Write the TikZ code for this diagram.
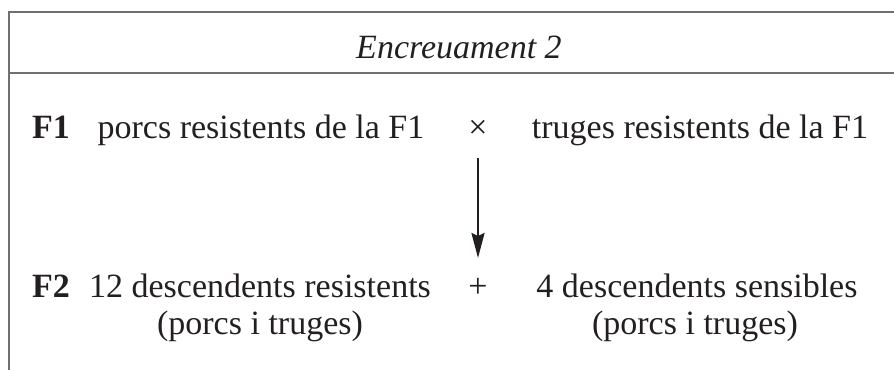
\documentclass[tikz,border=0pt]{standalone}
\usepackage{fontspec}
\setmainfont{Liberation Serif}
\usetikzlibrary{arrows.meta}
\definecolor{rule}{HTML}{707070}
\definecolor{ink}{HTML}{231F20}
\tikzset{
  txt/.style={inner sep=0pt, outer sep=0pt, text=ink, font=\fontsize{34}{40}\selectfont, anchor=base},
  frame/.style={draw=rule, line width=1.5pt},
  arr/.style={draw=ink, line width=2.4pt, -{Stealth[length=25pt,width=13pt,inset=3pt]}}
}
\begin{document}
\begin{tikzpicture}[x=1pt,y=-1pt]
\useasboundingbox (0,0) rectangle (894,370);
% frame
\coordinate (tl) at (9,12);
\coordinate (tr) at (894,12);
\coordinate (ml) at (9,73);
\coordinate (mr) at (894,73);
\coordinate (bl) at (9,370);
\draw[frame] (tr) -- (tl) -- (bl);
\draw[frame] (ml) -- (mr);
% title
\node[txt, font=\fontsize{34}{40}\selectfont\itshape] (title) at (459,58) {Encreuament 2};
% F1 row
\node[txt, anchor=base west] (f1) at (32,138) {\textbf{F1}};
\node[txt] (f1a) at (261,138) {porcs resistents de la F1};
\node[txt] (cross) at (478,138) {×};
\node[txt] (f1b) at (700,138) {truges resistents de la F1};
% arrow
\coordinate (as) at (478,158);
\coordinate (ae) at (478,258);
\draw[arr] (as) -- (ae);
% F2 row
\node[txt, anchor=base west] (f2) at (32,297) {\textbf{F2}};
\node[txt] (f2a) at (260,297) {12 descendents resistents};
\node[txt] (plus) at (478,297) {+};
\node[txt] (f2b) at (697,297) {4 descendents sensibles};
\node[txt] (f2ap) at (260,334) {(porcs i truges)};
\node[txt] (f2bp) at (695,334) {(porcs i truges)};
\end{tikzpicture}
\end{document}
